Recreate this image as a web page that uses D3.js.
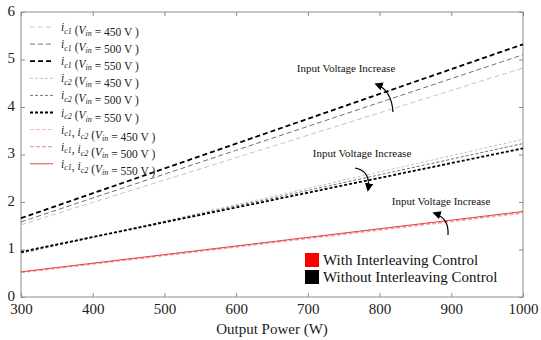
<!DOCTYPE html>
<html>
<head>
<meta charset="utf-8">
<script src="https://cdn.jsdelivr.net/npm/d3@7"></script>
<style>
  body { margin: 0; background: #fff; }
  svg text { font-family: "Times New Roman", "Liberation Serif", Times, serif; }
</style>
</head>
<body>
<div id="chart"></div>
<script>
// Output power (W) at the two ends of every line
const power = [300, 1000];

// i_c1 without interleaving (upper group), by input voltage
const ic1_450 = [1.52, 4.82];
const ic1_500 = [1.58, 5.10];
const ic1_550 = [1.66, 5.32];

// i_c2 without interleaving (lower group)
const ic2_450 = [0.91, 3.32];
const ic2_500 = [0.93, 3.23];
const ic2_550 = [0.95, 3.13];

// i_c1, i_c2 with interleaving control
const icx_450 = [0.51, 1.76];
const icx_500 = [0.52, 1.78];
const icx_550 = [0.53, 1.80];

const xTicks = [300, 400, 500, 600, 700, 800, 900, 1000];
const yTicks = [0, 1, 2, 3, 4, 5, 6];

const series = [
  { name: "c1", v: 450, vals: ic1_450, color: "#c4c4c4", w: 1,   dash: "5,3" },
  { name: "c1", v: 500, vals: ic1_500, color: "#707070", w: 1,   dash: "5,3" },
  { name: "c1", v: 550, vals: ic1_550, color: "#000",    w: 1.8, dash: "5,3" },
  { name: "c2", v: 450, vals: ic2_450, color: "#c4c4c4", w: 1,   dash: "3,2" },
  { name: "c2", v: 500, vals: ic2_500, color: "#707070", w: 1,   dash: "3,2" },
  { name: "c2", v: 550, vals: ic2_550, color: "#000",    w: 1.8, dash: "3,2" },
  { name: "both", v: 450, vals: icx_450, color: "#f5b8b8", w: 1, dash: "4,2" },
  { name: "both", v: 500, vals: icx_500, color: "#ec8585", w: 1, dash: "4,2" },
  { name: "both", v: 550, vals: icx_550, color: "#e84040", w: 1, dash: null }
];

const width = 541, height = 340;
const margin = { left: 21, right: 18, top: 12, bottom: 43 };

const svg = d3.select("#chart").append("svg")
  .attr("width", width).attr("height", height);

const x = d3.scaleLinear().domain([300, 1000]).range([margin.left, width - margin.right]);
const y = d3.scaleLinear().domain([0, 6]).range([height - margin.bottom, margin.top]);

const axisColor = "#8c8c8c";

// frame
svg.append("rect")
  .attr("x", x(300)).attr("y", y(6))
  .attr("width", x(1000) - x(300)).attr("height", y(0) - y(6))
  .attr("fill", "none").attr("stroke", axisColor).attr("stroke-width", 1);

// inward ticks on all four sides
const tk = 4;
function styleAxis(g) {
  g.select(".domain").remove();
  g.selectAll(".tick line").attr("stroke", axisColor);
  g.selectAll(".tick text").attr("fill", "#222").style("font-size", "15px");
}
const fmt = d3.format("d");
svg.append("g").attr("transform", `translate(0,${y(0)})`)
  .call(d3.axisBottom(x).tickValues(xTicks).tickFormat(fmt).tickSizeInner(-tk).tickSizeOuter(0).tickPadding(6))
  .call(styleAxis);
svg.append("g").attr("transform", `translate(0,${y(6)})`)
  .call(d3.axisTop(x).tickValues(xTicks).tickSizeInner(-tk).tickSizeOuter(0).tickFormat(""))
  .call(styleAxis);
svg.append("g").attr("transform", `translate(${x(300)},0)`)
  .call(d3.axisLeft(y).tickValues(yTicks).tickFormat(fmt).tickSizeInner(-tk).tickSizeOuter(0).tickPadding(6))
  .call(styleAxis)
  .call(g => g.selectAll(".tick text").attr("dy", "0.2em"));
svg.append("g").attr("transform", `translate(${x(1000)},0)`)
  .call(d3.axisRight(y).tickValues(yTicks).tickSizeInner(-tk).tickSizeOuter(0).tickFormat(""))
  .call(styleAxis);

svg.append("text")
  .attr("x", (x(300) + x(1000)) / 2).attr("y", 334)
  .attr("text-anchor", "middle").style("font-size", "15px").attr("fill", "#222")
  .text("Output Power (W)");

// lines
const line = d3.line().x((d, i) => x(power[i])).y(d => y(d));
svg.append("g").selectAll("path")
  .data(series).enter().append("path")
  .attr("d", d => line(d.vals))
  .attr("fill", "none")
  .attr("stroke", d => d.color)
  .attr("stroke-width", d => d.w)
  .attr("stroke-dasharray", d => d.dash);

// legend with line samples
const leg = svg.append("g");
const rowY = i => 27 + i * 17.1;
const rows = leg.selectAll("g").data(series).enter().append("g")
  .attr("transform", (d, i) => `translate(0,${rowY(i)})`);
rows.append("line")
  .attr("x1", 30).attr("x2", 53).attr("y1", 0).attr("y2", 0)
  .attr("stroke", d => d.color).attr("stroke-width", d => d.w)
  .attr("stroke-dasharray", d => d.dash);
const lt = rows.append("text").attr("x", 61).attr("y", 4).style("font-size", "11.5px").attr("fill", "#222");
lt.each(function(d) {
  const t = d3.select(this);
  const sub = (s) => t.append("tspan").attr("dy", 2.5).style("font-size", "8px").style("font-style", "italic").text(s);
  const up = () => t.append("tspan").attr("dy", -2.5).text("");
  if (d.name === "both") {
    t.append("tspan").style("font-style", "italic").text("i");
    sub("c1"); up();
    t.append("tspan").text(", ");
    t.append("tspan").style("font-style", "italic").text("i");
    sub("c2"); up();
  } else {
    t.append("tspan").style("font-style", "italic").text("i");
    sub(d.name); up();
  }
  t.append("tspan").text(" (");
  t.append("tspan").style("font-style", "italic").text("V");
  sub("in"); up();
  t.append("tspan").text(` = ${d.v} V )`);
});

// annotations
const notes = [
  { tx: 346, ty: 72, path: "M393,112 C392,97 386,88 376,84" },
  { tx: 362, ty: 157, path: "M355,168 C366,170 370,178 368,190" },
  { tx: 441, ty: 205, path: "M448,235 C449,222 443,216 434,213" }
];
svg.append("defs").append("marker")
  .attr("id", "ah").attr("viewBox", "0 0 10 10").attr("refX", 8).attr("refY", 5)
  .attr("markerWidth", 7).attr("markerHeight", 7).attr("orient", "auto")
  .append("path").attr("d", "M0,0 L10,5 L0,10 z").attr("fill", "#000");
notes.forEach(n => {
  svg.append("text").attr("x", n.tx).attr("y", n.ty).attr("text-anchor", "middle")
    .style("font-size", "11px").attr("fill", "#111").text("Input Voltage Increase");
  svg.append("path").attr("d", n.path).attr("fill", "none")
    .attr("stroke", "#000").attr("stroke-width", 1.2).attr("marker-end", "url(#ah)");
});

// colour legend
const cLeg = [
  { label: "With Interleaving Control", color: "#ff0000" },
  { label: "Without Interleaving Control", color: "#000000" }
];
const cg = svg.append("g").selectAll("g").data(cLeg).enter().append("g")
  .attr("transform", (d, i) => `translate(305,${253 + i * 17})`);
cg.append("rect").attr("width", 14).attr("height", 14).attr("fill", d => d.color);
cg.append("text").attr("x", 18).attr("y", 12).style("font-size", "15px").attr("fill", "#111")
  .text(d => d.label);
</script>
</body>
</html>
